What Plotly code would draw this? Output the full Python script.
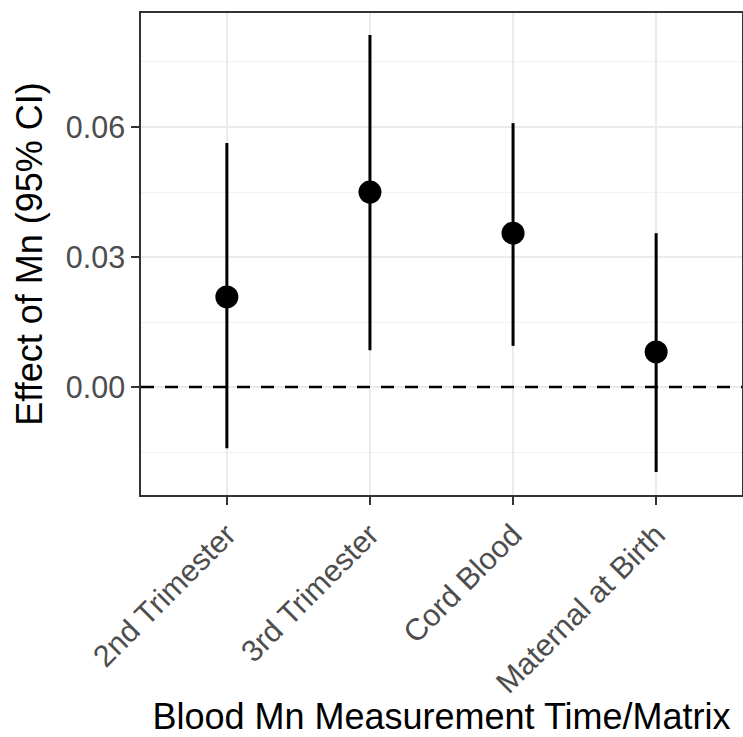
import plotly.graph_objects as go

# Effect estimates of blood Mn with 95% confidence intervals
categories = ["2nd Trimester", "3rd Trimester", "Cord Blood", "Maternal at Birth"]
estimate = [0.0208, 0.0450, 0.0355, 0.0081]
ci_lower = [-0.0141, 0.0085, 0.0095, -0.0196]
ci_upper = [0.0563, 0.0812, 0.0609, 0.0355]

err_plus = [u - e for u, e in zip(ci_upper, estimate)]
err_minus = [e - l for e, l in zip(estimate, ci_lower)]

fig = go.Figure()

# zero reference line
fig.add_hline(y=0, line=dict(color="black", width=2.5, dash="13px,11px"), layer="above")

fig.add_trace(go.Scatter(
    x=categories,
    y=estimate,
    mode="markers",
    marker=dict(color="black", size=23),
    error_y=dict(type="data", symmetric=False, array=err_plus, arrayminus=err_minus,
                 color="black", thickness=3, width=0),
    showlegend=False,
))

tick_font = dict(family="Liberation Sans, Arial, sans-serif", size=30.5, color="#4D4D4D")
title_font = dict(family="Liberation Sans, Arial, sans-serif", size=36, color="black")

fig.update_layout(
    width=743, height=737,
    margin=dict(l=141, r=1, t=13, b=242),
    paper_bgcolor="white",
    plot_bgcolor="white",
    xaxis=dict(
        type="category",
        range=[-0.6, 3.6],
        automargin=False,
        tickangle=-45,
        tickfont=tick_font,
        ticks="outside", ticklen=8, tickwidth=1.5, tickcolor="#333333",
        showgrid=True, gridcolor="#EBEBEB", gridwidth=1.5,
        showline=True, linecolor="#333333", linewidth=1.5, mirror=True,
        title=dict(text="Blood Mn Measurement Time/Matrix", font=title_font, standoff=8),
        zeroline=False,
    ),
    yaxis=dict(
        range=[-0.0249, 0.0863],
        automargin=False,
        tickvals=[0, 0.03, 0.06],
        ticktext=["0.00", "0.03", "0.06"],
        tickfont=tick_font,
        ticks="outside", ticklen=8, tickwidth=1.5, tickcolor="#333333",
        showgrid=True, gridcolor="#EBEBEB", gridwidth=1.5,
        minor=dict(tickvals=[-0.015, 0.015, 0.045, 0.075], showgrid=True,
                   gridcolor="#F2F2F2", gridwidth=1, ticks=""),
        showline=True, linecolor="#333333", linewidth=1.5, mirror=True,
        title=dict(text="Effect of Mn (95% CI)", font=title_font, standoff=12),
        zeroline=False,
    ),
)

fig.write_html("out.html")
